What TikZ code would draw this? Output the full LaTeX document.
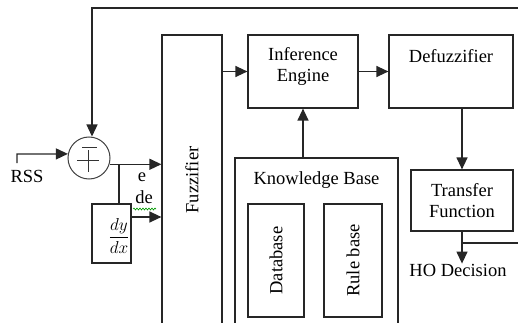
\documentclass[tikz,border=0pt]{standalone}
\usepackage{fontspec}
\setmainfont{Liberation Serif}
\usetikzlibrary{arrows.meta,decorations.pathmorphing}
\begin{document}
\begin{tikzpicture}[x=1pt,y=-1pt,
  box/.style={draw=black!85, line width=1.2pt, inner sep=0pt},
  lbl/.style={font=\fontsize{18.5}{21}\selectfont, align=center, inner sep=0pt},
  conn/.style={draw=black!85, line width=1.3pt},
  arr/.style={conn, -{Triangle[length=12pt,width=11pt]}}]
\useasboundingbox (0,0) rectangle (518,323);
\clip (0,0) rectangle (518,323);
% blocks
\node[box, minimum width=60pt, minimum height=290pt] (fuzz) at (192,180) {};
\node[lbl, rotate=90] (fuzzl) at (192,180) {Fuzzifier};
\node[box, minimum width=110pt, minimum height=73pt] (ie) at (303,71.5) {};
\node[lbl] (iel) at (303,66) {Inference\\Engine};
\node[box, minimum width=124pt, minimum height=73pt] (defz) at (451,71.5) {};
\node[lbl] (defzl) at (451,56) {Defuzzifier};
\node[box, minimum width=163pt, minimum height=175pt] (kb) at (316.5,245.5) {};
\node[lbl] (kbl) at (316.5,180) {Knowledge Base};
\node[box, minimum width=56pt, minimum height=113pt] (db) at (276,260.5) {};
\node[lbl, rotate=90] (dbl) at (276,260.5) {Database};
\node[box, minimum width=58pt, minimum height=113pt] (rb) at (353,260.5) {};
\node[lbl, rotate=90] (rbl) at (353,260.5) {Rule base};
\node[box, lbl, minimum width=102pt, minimum height=61pt] (tf) at (462,200.5) {Transfer\\Function};
\node[lbl] (ho) at (458,270) {HO Decision};
\node[lbl] (rss) at (27,176) {RSS};
\node[draw=black!75, line width=1pt, circle, minimum size=42pt, inner sep=0pt] (sum) at (89,158) {};
\draw[line width=1pt, black!80] (82,147) -- (97,147) (88,150) -- (88,172) (77,160.5) -- (99,160.5);
\node[box, minimum width=39pt, minimum height=59pt] (deriv) at (111.5,233.5) {};
\node[inner sep=0pt, font=\fontsize{18}{21}\selectfont] (frac) at (119,236) {$\displaystyle\frac{dy}{dx}$};
\node[lbl] (e) at (142,177) {e};
\node[lbl] (de) at (144,197) {de};
\draw[green!60!black, line width=0.6pt, decorate, decoration={snake, amplitude=1pt, segment length=3pt}] (133,209) -- (156,209);
% coordinates
\coordinate (rss0) at (17,163);
\coordinate (rssk) at (17,154);
\coordinate (br) at (119,164);
\coordinate (dout) at (131,217);
\coordinate (fbr) at (530,243);
\coordinate (fbtr) at (530,8);
\coordinate (fbtl) at (92,8);
% connectors
\draw[arr] (ie.west -| fuzz.east) -- (ie.west);
\draw[arr] (ie.east) -- (defz.west);
\draw[arr] (ie.south |- kb.north) -- (ie.south);
\draw[arr] (tf.north |- defz.south) -- (tf.north);
\draw[arr] (tf.south) -- (tf.south |- ho.north);
\draw[arr] (tf.south |- fbr) -- (fbr) -- (fbtr) -- (fbtl) -- (fbtl |- sum.north);
\draw[arr] (rss0) -- (rssk) -- (sum.169);
\draw[arr] (sum.-17) -- (sum.-17 -| fuzz.west);
\draw[conn] (br) -- (br |- deriv.north);
\draw[arr] (dout) -- (dout -| fuzz.west);
\end{tikzpicture}
\end{document}
